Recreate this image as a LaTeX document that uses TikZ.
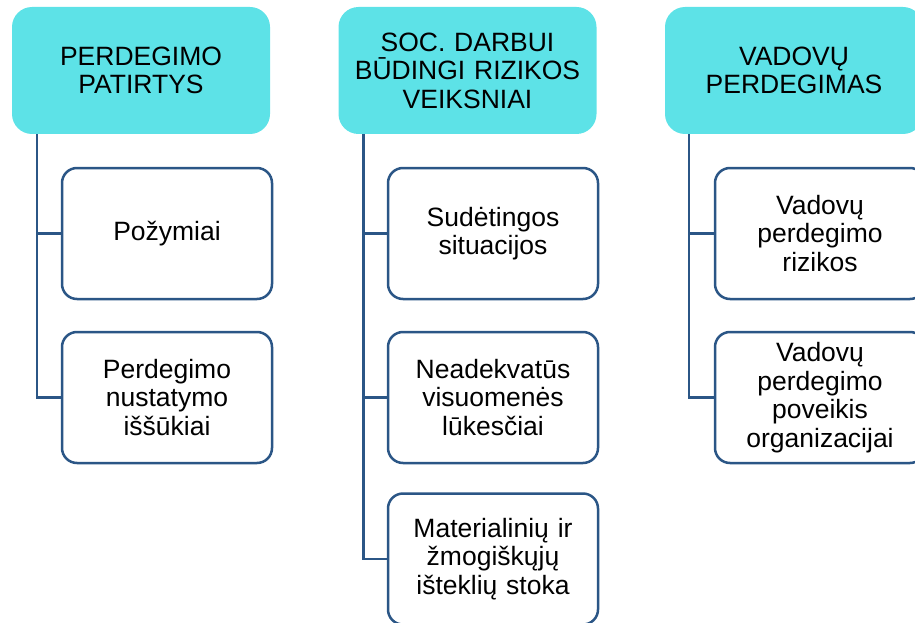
\documentclass[tikz,border=0pt]{standalone}
\usepackage{fontspec}
\setmainfont{Liberation Sans}
\definecolor{headfill}{HTML}{5DE2E7}
\definecolor{linkblue}{HTML}{2B5686}
\tikzset{
  headbox/.style={fill=headfill, rounded corners=20pt, minimum width=258pt, minimum height=127pt,
    text width=240pt, align=center, inner sep=0pt, font=\fontsize{26.5}{28.5}\selectfont},
  itembox/.style={draw=linkblue, line width=2.5pt, fill=white, rounded corners=15pt,
    minimum width=210pt, minimum height=131pt, text width=196pt, align=center, inner sep=0pt,
    font=\fontsize{26.5}{28.5}\selectfont},
  link/.style={draw=linkblue, line width=2.5pt}
}
\begin{document}
\begin{tikzpicture}[x=1pt, y=-1pt]
\useasboundingbox (0,0) rectangle (915,623);
\clip (0,0) rectangle (915,623);

% column headers
\node[headbox] (h1) at (141,70.5) {PERDEGIMO\\PATIRTYS};
\node[headbox] (h2) at (467.5,70.5) {SOC. DARBUI\\BŪDINGI RIZIKOS\\VEIKSNIAI};
\node[headbox] (h3) at (794,70.5) {VADOVŲ\\PERDEGIMAS};

% trunk start points below each header
\coordinate (t1) at ([xshift=25pt]h1.south west);
\coordinate (t2) at ([xshift=25pt]h2.south west);
\coordinate (t3) at ([xshift=24pt]h3.south west);

% column 1 items
\node[itembox] (c11) at (167,233.5) {Požymiai};
\node[itembox] (c12) at (167,397.5) {Perdegimo\\nustatymo\\iššūkiai};
% column 2 items
\node[itembox] (c21) at (493,233.5) {Sudėtingos\\situacijos};
\node[itembox] (c22) at (493,397.5) {Neadekvatūs\\visuomenės\\lūkesčiai};
\node[itembox] (c23) at (493,559) {Materialinių ir\\žmogiškųjų\\išteklių stoka};
% column 3 items
\node[itembox] (c31) at (820,233.5) {Vadovų\\perdegimo\\rizikos};
\node[itembox] (c32) at (820,397.5) {Vadovų\\perdegimo\\poveikis\\organizacijai};

% trunks down to the last item of each column
\draw[link] (t1) |- (c12.west);
\draw[link] (t2) |- (c23.west);
\draw[link] (t3) |- (c32.west);

% branches from trunks to the other items
\draw[link] (c11.west -| t1) -- (c11.west);
\draw[link] (c21.west -| t2) -- (c21.west);
\draw[link] (c22.west -| t2) -- (c22.west);
\draw[link] (c31.west -| t3) -- (c31.west);
\end{tikzpicture}
\end{document}
